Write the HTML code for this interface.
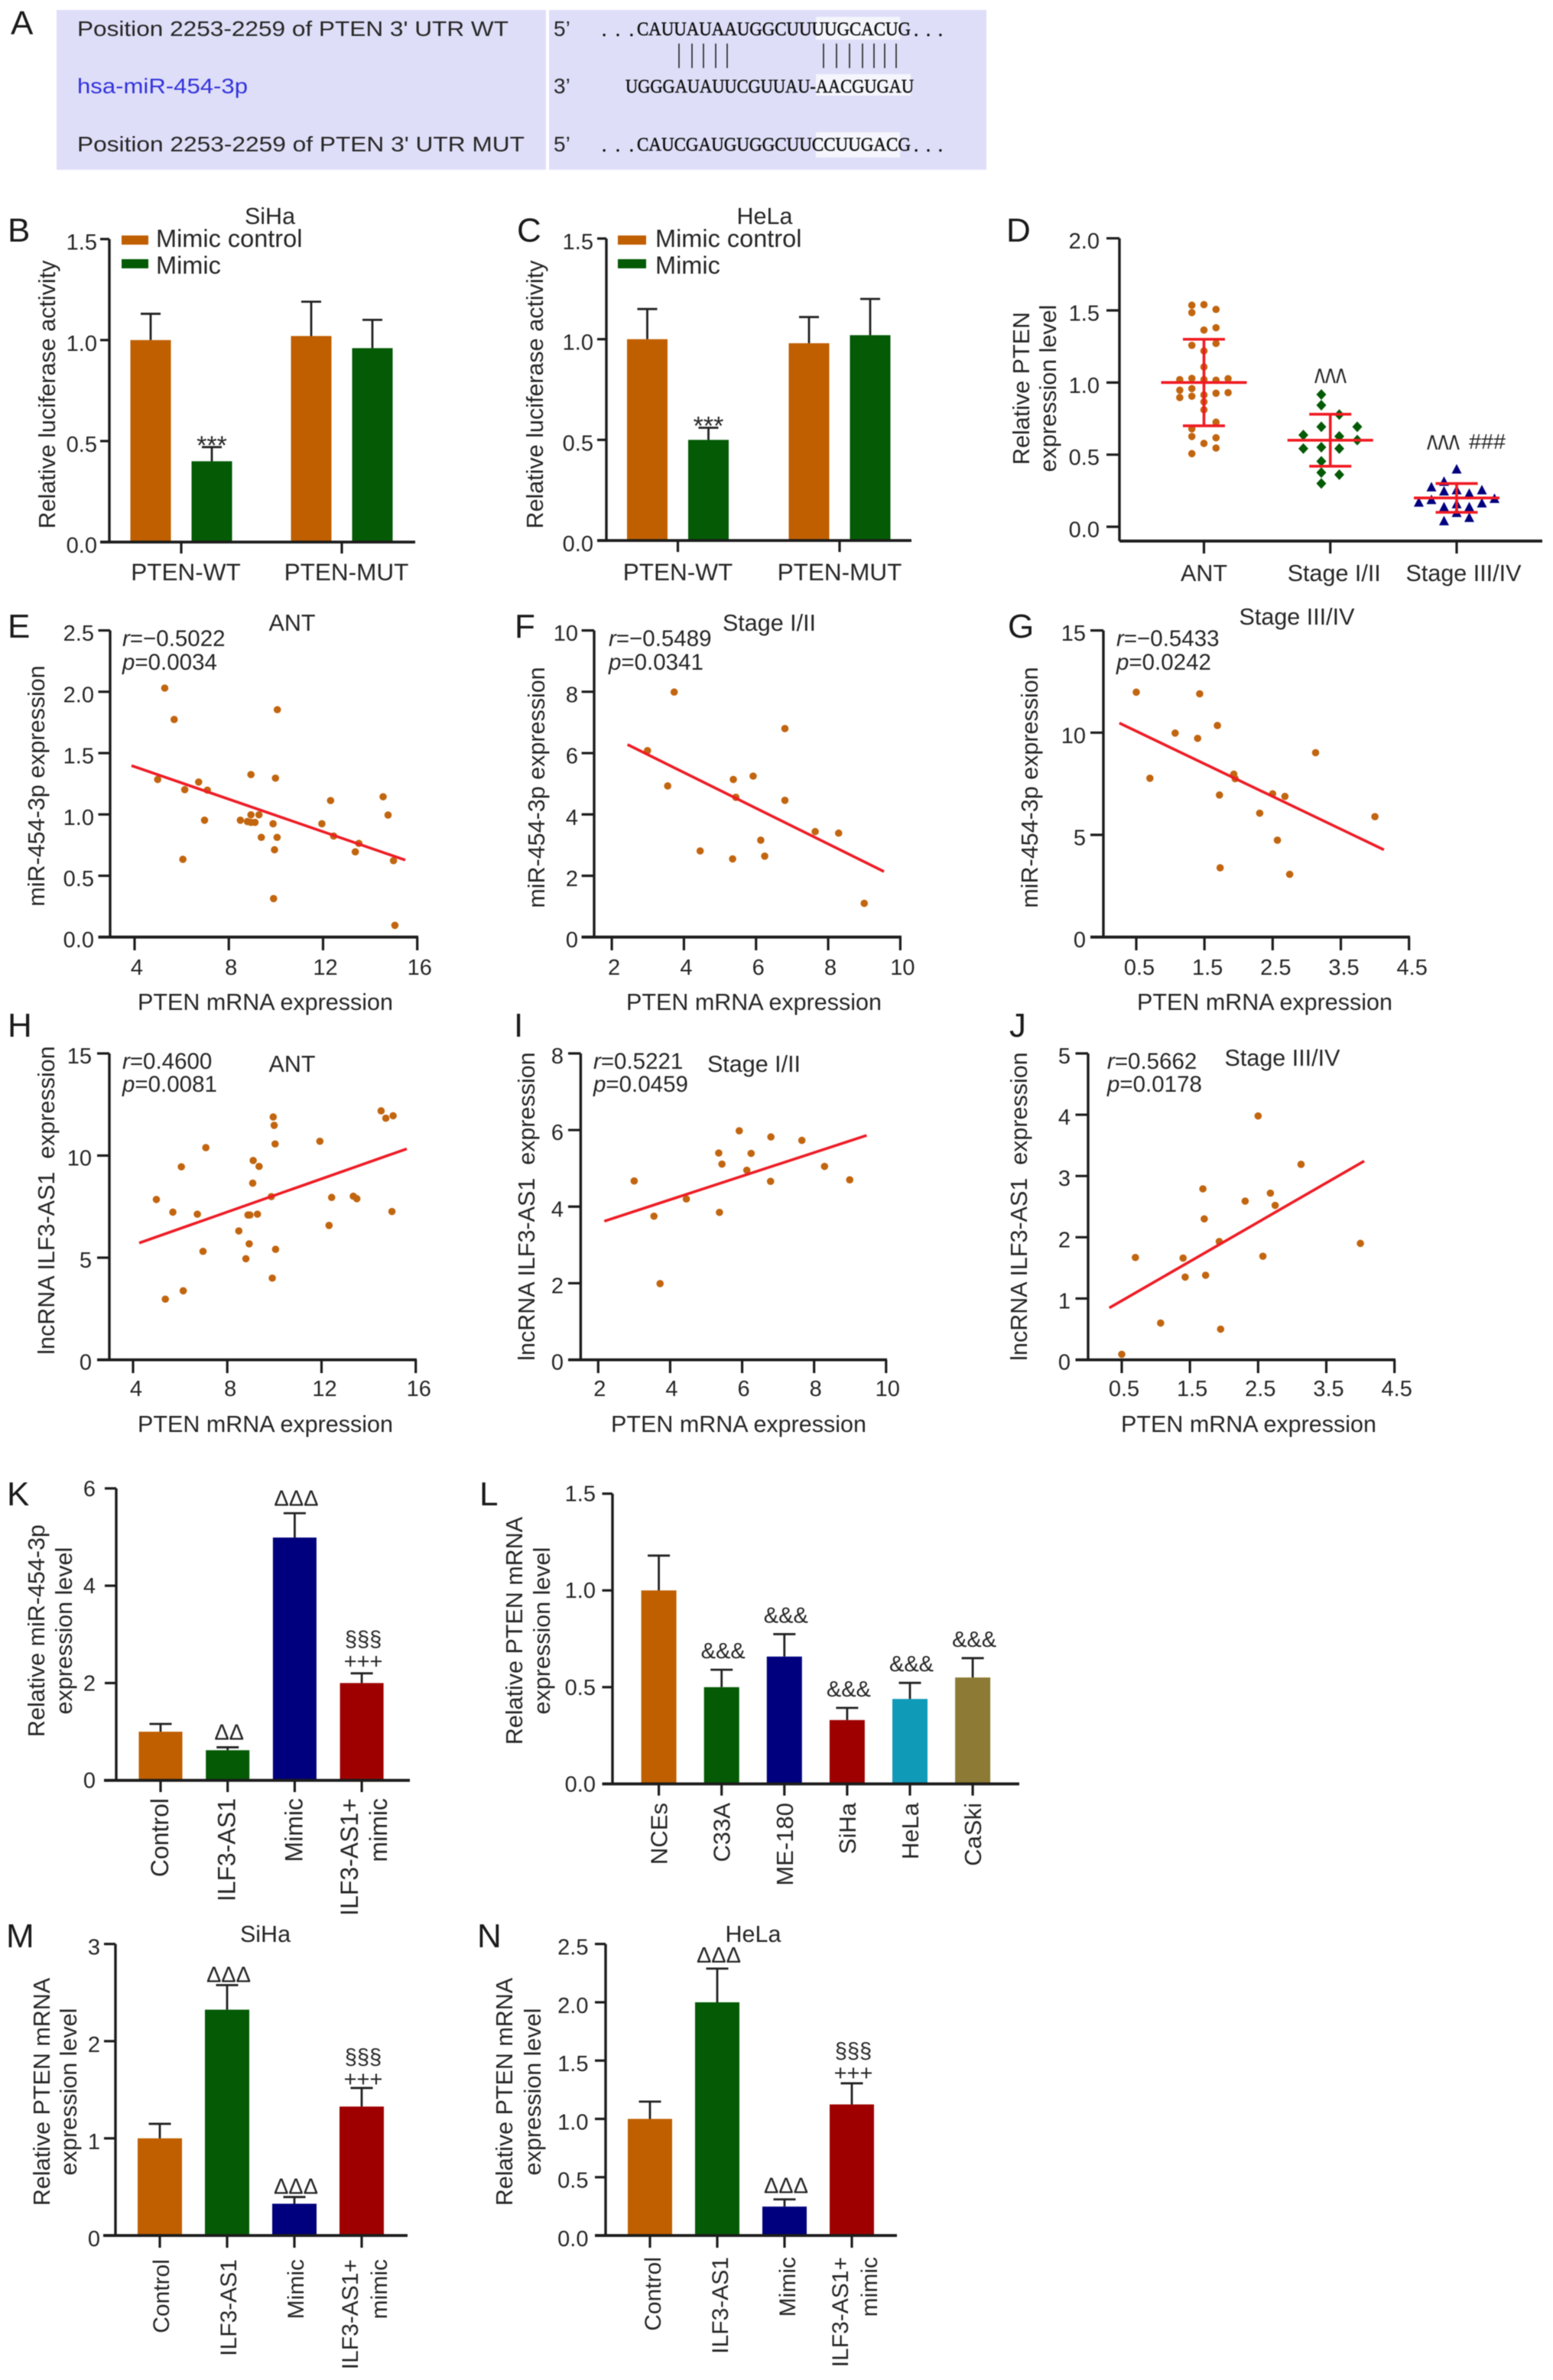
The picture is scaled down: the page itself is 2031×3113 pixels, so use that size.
<!DOCTYPE html>
<html lang="en">
<head>
<meta charset="utf-8">
<title>PTEN, miR-454-3p and ILF3-AS1 expression figure</title>
<style>
html,body{margin:0;padding:0;background:#fff;}
#figure{display:block;width:2031px;height:3113px;filter:blur(.5px);}
text{font-family:"Liberation Sans",Arial,sans-serif;fill:#262626;font-size:30.5px;}
.letter{font-size:44px;fill:#1a1a1a;}
.seq{font-family:"Liberation Serif",serif;font-size:25px;fill:#111;stroke:#111;stroke-width:.5px;}
.ut{font-size:28px;}
.stat{font-size:29.5px;}
.ctr{text-anchor:middle;}
</style>
</head>
<body>
<svg id="figure" xmlns="http://www.w3.org/2000/svg" width="2031" height="3113" viewBox="0 0 2031 3113">
<rect x="0" y="0" width="2031" height="3113" fill="#fff"/>

<g>
  <text class="letter" x="14" y="45">A</text>
  <rect x="74" y="13" width="640" height="209" fill="#dedef8"/>
  <rect x="718" y="13" width="572" height="209" fill="#dedef8"/>
  <rect x="1067" y="22" width="110" height="30" fill="#fff" fill-opacity=".7"/>
  <rect x="1067" y="97" width="124" height="28" fill="#fff" fill-opacity=".7"/>
  <rect x="1067" y="173" width="110" height="33" fill="#fff" fill-opacity=".7"/>
  <text class="ut" x="101" y="47" textLength="564" lengthAdjust="spacingAndGlyphs">Position 2253-2259 of PTEN 3' UTR  WT</text>
  <text class="ut" x="101" y="122" textLength="223" lengthAdjust="spacingAndGlyphs" style="fill:#3333dd">hsa-miR-454-3p</text>
  <text class="ut" x="101" y="198" textLength="585" lengthAdjust="spacingAndGlyphs">Position 2253-2259 of PTEN 3' UTR  MUT</text>
  <text class="ut" x="724" y="47">5’</text>
  <text class="ut" x="724" y="122">3’</text>
  <text class="ut" x="724" y="198">5’</text>
  <text class="seq" x="787" y="47" textLength="42">...</text>
  <text class="seq" x="833" y="46" textLength="358" lengthAdjust="spacingAndGlyphs">CAUUAUAAUGGCUUUUGCACUG</text>
  <text class="seq" x="1195" y="47" textLength="38">...</text>
  <text class="seq" x="818" y="121" textLength="377" lengthAdjust="spacingAndGlyphs">UGGGAUAUUCGUUAU-AACGUGAU</text>
  <text class="seq" x="787" y="198" textLength="42">...</text>
  <text class="seq" x="833" y="197" textLength="358" lengthAdjust="spacingAndGlyphs">CAUCGAUGUGGCUUCCUUGACG</text>
  <text class="seq" x="1195" y="198" textLength="38">...</text>
  <path d="M888 57V89M905 57V89M920 57V89M936 57V89M951 57V89M1077 57V89M1094 57V89M1111 57V89M1128 57V89M1143 57V89M1157 57V89M1172 57V89" stroke="#222" stroke-width="1.6" fill="none"/>
</g>

<g id="panel-b">
  <text class="letter" x="10" y="316">B</text>
  <text class="ctr" x="353" y="293">SiHa</text>
  <text transform="translate(72,516) rotate(-90)" class="ctr">Relative luciferase activity</text>
  <rect x="159" y="308" width="35" height="12" fill="#c05f00"/>
  <text x="204" y="323" style="font-size:32.5px">Mimic control</text>
  <rect x="159" y="339" width="35" height="12" fill="#045a05"/>
  <text x="204" y="358" style="font-size:32.5px">Mimic</text>
</g>
<g id="panel-c">
  <text class="letter" x="676" y="316">C</text>
  <text class="ctr" x="1000" y="293">HeLa</text>
  <text transform="translate(710,516) rotate(-90)" class="ctr">Relative luciferase activity</text>
  <rect x="808" y="308" width="37" height="12" fill="#c05f00"/>
  <text x="857" y="323" style="font-size:32.5px">Mimic control</text>
  <rect x="808" y="339" width="37" height="12" fill="#045a05"/>
  <text x="857" y="358" style="font-size:32.5px">Mimic</text>
</g>
<g id="panel-d">
  <text class="letter" x="1316" y="316">D</text>
  <text transform="translate(1346,508) rotate(-90)" class="ctr">Relative PTEN</text>
  <text transform="translate(1381,508) rotate(-90)" class="ctr">expression level</text>
  <text x="1719" y="518" style="font-size:52px" textLength="42" lengthAdjust="spacingAndGlyphs">^^^</text>
  <text x="1866" y="605" style="font-size:52px" textLength="43" lengthAdjust="spacingAndGlyphs">^^^</text>
  <text x="1921" y="587" style="font-size:28px" textLength="48" lengthAdjust="spacingAndGlyphs">###</text>
</g>

<g id="panel-e">
  <text class="letter" x="10" y="834">E</text>
  <text class="ctr" x="382" y="825">ANT</text>
  <text class="stat" x="160" y="845"><tspan font-style="italic">r</tspan>=−0.5022</text>
  <text class="stat" x="160" y="876"><tspan font-style="italic">p</tspan>=0.0034</text>
  <text class="ctr" x="347" y="1321">PTEN mRNA expression</text>
  <text transform="translate(58,1028) rotate(-90)" class="ctr">miR-454-3p expression</text>
</g>
<g id="panel-f">
  <text class="letter" x="673" y="834">F</text>
  <text class="ctr" x="1006" y="825">Stage I/II</text>
  <text class="stat" x="796" y="845"><tspan font-style="italic">r</tspan>=−0.5489</text>
  <text class="stat" x="796" y="876"><tspan font-style="italic">p</tspan>=0.0341</text>
  <text class="ctr" x="986" y="1321">PTEN mRNA expression</text>
  <text transform="translate(712,1030) rotate(-90)" class="ctr">miR-454-3p expression</text>
</g>
<g id="panel-g">
  <text class="letter" x="1318" y="834">G</text>
  <text class="ctr" x="1696" y="817">Stage III/IV</text>
  <text class="stat" x="1460" y="845"><tspan font-style="italic">r</tspan>=−0.5433</text>
  <text class="stat" x="1460" y="876"><tspan font-style="italic">p</tspan>=0.0242</text>
  <text class="ctr" x="1654" y="1321">PTEN mRNA expression</text>
  <text transform="translate(1357,1030) rotate(-90)" class="ctr">miR-454-3p expression</text>
</g>

<g id="panel-h">
  <text class="letter" x="10" y="1356">H</text>
  <text class="ctr" x="382" y="1402">ANT</text>
  <text class="stat" x="160" y="1398"><tspan font-style="italic">r</tspan>=0.4600</text>
  <text class="stat" x="160" y="1428"><tspan font-style="italic">p</tspan>=0.0081</text>
  <text class="ctr" x="347" y="1873">PTEN mRNA expression</text>
  <text transform="translate(71,1570) rotate(-90)" class="ctr" xml:space="preserve">lncRNA ILF3-AS1  expression</text>
</g>
<g id="panel-i">
  <text class="letter" x="672" y="1356">I</text>
  <text class="ctr" x="986" y="1402">Stage I/II</text>
  <text class="stat" x="776" y="1398"><tspan font-style="italic">r</tspan>=0.5221</text>
  <text class="stat" x="776" y="1428"><tspan font-style="italic">p</tspan>=0.0459</text>
  <text class="ctr" x="966" y="1873">PTEN mRNA expression</text>
  <text transform="translate(699,1578) rotate(-90)" class="ctr" xml:space="preserve">lncRNA ILF3-AS1  expression</text>
</g>
<g id="panel-j">
  <text class="letter" x="1320" y="1356">J</text>
  <text class="ctr" x="1677" y="1394">Stage III/IV</text>
  <text class="stat" x="1448" y="1398"><tspan font-style="italic">r</tspan>=0.5662</text>
  <text class="stat" x="1448" y="1428"><tspan font-style="italic">p</tspan>=0.0178</text>
  <text class="ctr" x="1633" y="1873">PTEN mRNA expression</text>
  <text transform="translate(1343,1578) rotate(-90)" class="ctr" xml:space="preserve">lncRNA ILF3-AS1  expression</text>
</g>

<g id="panel-k">
  <text class="letter" x="9" y="1969">K</text>
  <text transform="translate(58,2133) rotate(-90)" class="ctr">Relative miR-454-3p</text>
  <text transform="translate(94,2133) rotate(-90)" class="ctr">expression level</text>
</g>
<g id="panel-l">
  <text class="letter" x="627" y="1969">L</text>
  <text transform="translate(683,2133) rotate(-90)" class="ctr">Relative PTEN mRNA</text>
  <text transform="translate(719,2133) rotate(-90)" class="ctr">expression level</text>
</g>
<g id="panel-m">
  <text class="letter" x="8" y="2547">M</text>
  <text class="ctr" x="347" y="2540">SiHa</text>
  <text transform="translate(65,2736) rotate(-90)" class="ctr">Relative PTEN mRNA</text>
  <text transform="translate(100,2736) rotate(-90)" class="ctr">expression level</text>
</g>
<g id="panel-n">
  <text class="letter" x="624" y="2547">N</text>
  <text class="ctr" x="985" y="2540">HeLa</text>
  <text transform="translate(670,2736) rotate(-90)" class="ctr">Relative PTEN mRNA</text>
  <text transform="translate(707,2736) rotate(-90)" class="ctr">expression level</text>
</g>
</svg>

<script>
/* ---------- Panel B data ---------- */
const bCategories = ['PTEN-WT', 'PTEN-MUT'];
const bYTicks = ['0.0', '0.5', '1.0', '1.5'];
const bControl = [1.0, 1.02];
const bControlErr = [1.13, 1.19];
const bMimic = [0.40, 0.96];
const bMimicErr = [0.47, 1.10];
const bStars = ['***', ''];
/* ---------- Panel C data ---------- */
const cCategories = ['PTEN-WT', 'PTEN-MUT'];
const cYTicks = ['0.0', '0.5', '1.0', '1.5'];
const cControl = [1.0, 0.98];
const cControlErr = [1.15, 1.11];
const cMimic = [0.50, 1.02];
const cMimicErr = [0.56, 1.20];
const cStars = ['***', ''];
/* ---------- Panel D data ---------- */
const dCategories = ['ANT', 'Stage I/II', 'Stage III/IV'];
const dYTicks = ['0.0', '0.5', '1.0', '1.5', '2.0'];
const dAntValues = [1.536,1.54,1.485,1.507,1.364,1.38,1.258,1.271,1.219,1.108,1.02,1.029,1.02,1.016,1.027,0.947,0.958,0.896,0.905,0.914,0.926,0.93,0.866,0.811,0.725,0.679,0.626,0.617,0.578,0.546,0.507];
const dAntColumns = [-1,0,-1,1,0,1,-1,1,0,0,-2,-1,0,1,2,-2,-1,-2,-1,0,1,2,0,0,1,-1,-1,1,0,1,-1];
const dEarlyValues = [0.917,0.843,0.778,0.693,0.693,0.636,0.627,0.601,0.542,0.551,0.542,0.454,0.376,0.361,0.30];
const dEarlyColumns = [-0.5,-0.5,0.5,-0.5,1.5,-1.5,0.5,1.5,-1.5,-0.5,0.5,-0.5,-0.5,0.5,-0.5];
const dLateValues = [0.398,0.313,0.274,0.254,0.246,0.254,0.23,0.194,0.168,0.186,0.163,0.136,0.157,0.136,0.097,0.039,0.062];
const dLateColumns = [0,-1,-2,2,-1,0,1,3,-3,-2,2,-1,0,1,0,-1,1];
const dMeans = [1.0, 0.6, 0.2];
const dSds = [0.30, 0.18, 0.10];
/* ---------- Panel E data ---------- */
const eXTicks = ['4', '8', '12', '16'];
const eYTicks = ['0.0', '0.5', '1.0', '1.5', '2.0', '2.5'];
const ePten = [5.28,5.68,4.98,6.13,6.72,7.09,6.97,6.05,8.49,8.79,8.94,8.94,9.11,9.28,8.94,10.06,9.98,9.88,9.38,10.05,9.94,9.9,11.95,12.32,12.45,13.52,13.37,14.55,14.76,14.99,15.05];
const eMir = [2.03,1.774,1.285,1.202,1.264,1.198,0.953,0.634,0.953,0.942,0.935,0.997,0.935,0.997,1.325,1.854,1.296,0.924,0.813,0.813,0.712,0.314,0.924,1.113,0.824,0.764,0.695,1.144,0.995,0.623,0.096];
const eFitX = [3.87, 15.49];
const eFitY = [1.398, 0.628];
/* ---------- Panel F data ---------- */
const fXTicks = ['2', '4', '6', '8', '10'];
const fYTicks = ['0', '2', '4', '6', '8', '10'];
const fPten = [2.99,3.73,3.55,4.45,5.37,5.35,5.44,5.92,6.13,6.24,6.8,6.8,7.64,8.29,9.0];
const fMir = [6.08,7.99,4.93,2.81,5.14,2.55,4.56,5.25,3.16,2.64,6.8,4.46,3.44,3.39,1.1];
const fFitX = [2.436, 9.547];
const fFitY = [6.278, 2.137];
/* ---------- Panel G data ---------- */
const gXTicks = ['0.5', '1.5', '2.5', '3.5', '4.5'];
const gYTicks = ['0', '5', '10', '15'];
const gPten = [0.5,1.43,1.69,1.07,1.4,0.7,1.93,1.95,1.72,2.5,2.68,2.31,2.57,1.73,2.75,3.13,4.0];
const gMir = [11.98,11.9,10.35,9.98,9.72,7.77,7.97,7.75,6.95,7.01,6.88,6.06,4.74,3.39,3.07,9.02,5.89];
const gFitX = [0.252, 4.132];
const gFitY = [10.47, 4.27];
/* ---------- Panel H data ---------- */
const hXTicks = ['4', '8', '12', '16'];
const hYTicks = ['0', '5', '10', '15'];
const hPten = [4.99,5.37,5.69,6.05,6.13,6.73,6.97,7.09,8.49,8.79,8.93,8.88,8.96,9.08,9.1,9.28,9.35,9.87,9.91,9.95,9.99,10.03,10.05,11.93,12.32,12.43,13.35,13.5,14.53,14.73,15.04,14.99];
const hIlf = [7.85,2.97,7.23,9.45,3.38,7.13,5.31,10.39,6.31,4.95,5.68,7.09,7.09,8.65,9.76,7.13,9.47,7.99,4.0,11.89,11.48,10.57,5.41,10.7,6.58,7.95,8.01,7.89,12.19,11.83,11.95,7.26];
const hFitX = [4.26, 15.62];
const hFitY = [5.72, 10.33];
/* ---------- Panel I data ---------- */
const iXTicks = ['2', '4', '6', '8', '10'];
const iYTicks = ['0', '2', '4', '6', '8'];
const iPten = [3.0,3.55,3.72,4.45,5.35,5.37,5.44,5.92,6.13,6.25,6.8,6.79,7.66,8.29,8.99];
const iIlf = [4.67,3.75,1.99,4.2,5.4,3.85,5.11,5.98,4.95,5.39,5.82,4.66,5.73,5.05,4.7];
const iFitX = [2.17, 9.46];
const iFitY = [3.62, 5.86];
/* ---------- Panel J data ---------- */
const jXTicks = ['0.5', '1.5', '2.5', '3.5', '4.5'];
const jYTicks = ['0', '1', '2', '3', '4', '5'];
const jPten = [0.5,0.7,1.07,1.4,1.43,1.69,1.71,1.73,1.93,1.95,2.31,2.5,2.57,2.68,2.75,3.13,4.0];
const jIlf = [0.09,1.67,0.6,1.66,1.35,2.79,2.3,1.38,1.93,0.5,2.59,3.98,1.69,2.72,2.52,3.19,1.9];
const jFitX = [0.318, 4.056];
const jFitY = [0.847, 3.244];
/* ---------- Panel K data ---------- */
const kCategories = [['Control'], ['ILF3-AS1'], ['Mimic'], ['ILF3-AS1+', 'mimic']];
const kYTicks = ['0', '2', '4', '6'];
const kValues = [1.0, 0.62, 4.99, 2.0];
const kErrors = [1.16, 0.68, 5.49, 2.2];
const kMarks = ['', 'ΔΔ', 'ΔΔΔ', '+++'];
const kUpperMarks = ['', '', '', '§§§'];
/* ---------- Panel L data ---------- */
const lCategories = [['NCEs'], ['C33A'], ['ME-180'], ['SiHa'], ['HeLa'], ['CaSki']];
const lYTicks = ['0.0', '0.5', '1.0', '1.5'];
const lValues = [1.0, 0.5, 0.658, 0.33, 0.439, 0.55];
const lErrors = [1.18, 0.59, 0.774, 0.393, 0.522, 0.65];
const lMarks = ['', '&&&', '&&&', '&&&', '&&&', '&&&'];
const lUpperMarks = ['', '', '', '', '', ''];
/* ---------- Panel M data ---------- */
const mCategories = [['Control'], ['ILF3-AS1'], ['Mimic'], ['ILF3-AS1+', 'mimic']];
const mYTicks = ['0', '1', '2', '3'];
const mValues = [1.0, 2.324, 0.327, 1.327];
const mErrors = [1.149, 2.577, 0.396, 1.518];
const mMarks = ['', 'ΔΔΔ', 'ΔΔΔ', '+++'];
const mUpperMarks = ['', '', '', '§§§'];
/* ---------- Panel N data ---------- */
const nCategories = [['Control'], ['ILF3-AS1'], ['Mimic'], ['ILF3-AS1+', 'mimic']];
const nYTicks = ['0.0', '0.5', '1.0', '1.5', '2.0', '2.5'];
const nValues = [1.0, 2.0, 0.248, 1.124];
const nErrors = [1.148, 2.289, 0.31, 1.305];
const nMarks = ['', 'ΔΔΔ', 'ΔΔΔ', '+++'];
const nUpperMarks = ['', '', '', '§§§'];

/* ---------- Colours ---------- */
const ORANGE = '#c05f00', GREEN = '#045a05', NAVY = '#00007e', CRIMSON = '#9e0000', TEAL = '#0f9ab8', OLIVE = '#8c7a35';
const INK = '#1c1c1c', POINT = '#c2650f', FIT = '#ee1c25';
const treatColors = [ORANGE, GREEN, NAVY, CRIMSON];
const lineColors = [ORANGE, GREEN, NAVY, CRIMSON, TEAL, OLIVE];

/* ---------- Helpers ---------- */
const SVGNS = 'http://www.w3.org/2000/svg';
function node(tag, parent, props) {
  const el = document.createElementNS(SVGNS, tag);
  for (const k in props) el.setAttribute(k, props[k]);
  parent.appendChild(el);
  return el;
}
function linearScale(d0, d1, r0, r1) {
  return function (v) { return r0 + (v - d0) / (d1 - d0) * (r1 - r0); };
}
function tickScale(labels, r0, r1) {
  return linearScale(Number(labels[0]), Number(labels[labels.length - 1]), r0, r1);
}
function drawYAxisLine(g, x, y0, y1) {
  const el = node('line', g, {x1: x, x2: x, y1: y0, y2: y1, stroke: INK, 'stroke-width': 3.4});
  
  
}
function drawXAxisLine(g, x0, x1, y) {
  const el = node('line', g, {x1: x0, x2: x1, y1: y, y2: y, stroke: INK, 'stroke-width': 3.8});
  
  
}
function drawYTicks(g, labels, scale, f) {
  labels.forEach(function (lab) {
    const py = scale(Number(lab));
    const t = node('line', g, {x1: f.tickLeft, x2: f.axisX, y1: py, y2: py, stroke: INK, 'stroke-width': 3.2});
    
    
    const s = node('text', g, {x: f.labelRight, y: py + 10 + f.labelDy, 'text-anchor': 'end', style: 'font-size:29px'});
    s.textContent = lab;
    
    
  });
}
function drawXTick(g, px, y0, y1) {
  const t = node('line', g, {x1: px, x2: px, y1: y0, y2: y1, stroke: INK, 'stroke-width': 3.2});
  
  
}
function drawNumericXTicks(g, labels, scale, f) {
  labels.forEach(function (lab) {
    const px = scale(Number(lab));
    drawXTick(g, px, f.baseY, f.tickBottom);
    const s = node('text', g, {x: px + f.labelShift, y: f.labelY, 'text-anchor': 'middle', style: 'font-size:29px'});
    s.textContent = lab;
    
    
  });
}
function drawPoints(g, xs, ys, xScale, yScale) {
  xs.forEach(function (v, i) {
    const c = node('circle', g, {cx: xScale(v), cy: yScale(ys[i]), r: 4.8, fill: POINT});
    
    
  });
}
function drawFit(g, fx, fy, xScale, yScale) {
  const l = node('line', g, {x1: xScale(fx[0]), y1: yScale(fy[0]), x2: xScale(fx[1]), y2: yScale(fy[1]), stroke: FIT, 'stroke-width': 3.6});
  
  
}
function drawBar(g, cx, width, value, yScale, color) {
  const top = yScale(value), base = yScale(0);
  const b = node('rect', g, {x: cx - width / 2, y: top, width: width, height: base - top, fill: color});
  
  
}
function drawErrorBar(g, cx, capWidth, value, err, yScale) {
  const p = node('path', g, {d: 'M' + cx + ' ' + yScale(value) + 'V' + yScale(err) + 'M' + (cx - capWidth / 2) + ' ' + yScale(err) + 'H' + (cx + capWidth / 2), stroke: '#222', 'stroke-width': 2.8, fill: 'none'});
  
  
}
function drawMark(g, x, y, str, size) {
  if (!str) return;
  const s = node('text', g, {x: x, y: y, 'text-anchor': 'middle', style: 'font-size:' + size + 'px'});
  s.textContent = str;
  
  
}
function drawVerticalLabel(g, x, y, str, size) {
  const s = node('text', g, {transform: 'translate(' + x + ',' + y + ') rotate(-90)', 'text-anchor': 'end', style: 'font-size:' + size + 'px'});
  s.textContent = str;
  
  
}
function drawHorizontalLabel(g, x, y, str, size) {
  const s = node('text', g, {x: x, y: y, 'text-anchor': 'middle', style: 'font-size:' + size + 'px'});
  s.textContent = str;
  
  
}

/* ---------- Grouped bars: B, C ---------- */
function groupedPanel(id, f, cats, ticks, ctrl, ctrlErr, mimic, mimicErr, stars) {
  const g = document.getElementById(id);
  const y = tickScale(ticks, f.y0, f.yTop);
  const x = function (i) { return f.first + i * f.step; };
  cats.forEach(function (cat, i) {
    drawBar(g, x(i) - 40, f.barW, ctrl[i], y, ORANGE);
    drawBar(g, x(i) + 40, f.barW, mimic[i], y, GREEN);
    drawErrorBar(g, x(i) - 40, 26, ctrl[i], ctrlErr[i], y);
    drawErrorBar(g, x(i) + 40, 26, mimic[i], mimicErr[i], y);
    drawMark(g, x(i) + 40, y(mimicErr[i]) + 9, stars[i], 34);
    drawXTick(g, x(i), f.y0, f.tickBottom);
    drawHorizontalLabel(g, x(i) + f.labelShift, f.labelY, cat, 31.5);
  });
  drawYAxisLine(g, f.axisX, f.yTop, f.y0);
  drawXAxisLine(g, f.x0, f.x1, f.y0);
  drawYTicks(g, ticks, y, f);
}
groupedPanel('panel-b', {y0: 709, yTop: 312.7, first: 237, step: 210, barW: 53, axisX: 143, x0: 131, x1: 543, tickLeft: 131, labelRight: 127, labelDy: 4, tickBottom: 724, labelY: 759, labelShift: 6}, bCategories, bYTicks, bControl, bControlErr, bMimic, bMimicErr, bStars);
groupedPanel('panel-c', {y0: 707, yTop: 312, first: 886.5, step: 211.5, barW: 53, axisX: 793, x0: 781, x1: 1192, tickLeft: 781, labelRight: 776, labelDy: 4, tickBottom: 722, labelY: 759, labelShift: 0}, cCategories, cYTicks, cControl, cControlErr, cMimic, cMimicErr, cStars);

/* ---------- Swarm: D ---------- */
const dFrame = {axisX: 1464, tickLeft: 1447, labelRight: 1438, labelDy: 3.5, y0: 689, yTop: 311.7, baseY: 707.7, x1: 2017, first: 1574.5, step: 165.25, tickBottom: 724, labelY: 760};
function drawCircleMark(g, px, py) {
  const c = node('circle', g, {cx: px, cy: py, r: 4.8, fill: POINT});
  
  
}
function drawDiamondMark(g, px, py) {
  const p = node('path', g, {d: 'M' + px + ' ' + (py - 7) + 'L' + (px + 6.5) + ' ' + py + 'L' + px + ' ' + (py + 7) + 'L' + (px - 6.5) + ' ' + py + 'Z', fill: GREEN});
  
  
}
function drawTriangleMark(g, px, py) {
  const p = node('path', g, {d: 'M' + px + ' ' + (py - 7) + 'L' + (px + 6.5) + ' ' + (py + 5.5) + 'L' + (px - 6.5) + ' ' + (py + 5.5) + 'Z', fill: NAVY});
  
  
}
function drawSummary(g, px, mean, sd, yScale) {
  const p = node('path', g, {d: 'M' + (px - 56) + ' ' + yScale(mean) + 'H' + (px + 56) + 'M' + (px - 27.5) + ' ' + yScale(mean + sd) + 'H' + (px + 27.5) + 'M' + (px - 27.5) + ' ' + yScale(mean - sd) + 'H' + (px + 27.5) + 'M' + px + ' ' + yScale(mean + sd) + 'V' + yScale(mean - sd), stroke: '#f01a22', 'stroke-width': 3.6, fill: 'none'});
  
  
}
(function () {
  const g = document.getElementById('panel-d');
  const f = dFrame;
  const y = tickScale(dYTicks, f.y0, f.yTop);
  const x = function (i) { return f.first + i * f.step; };
  dAntValues.forEach(function (v, i) { drawCircleMark(g, x(0) + dAntColumns[i] * 15.8, y(v)); });
  dEarlyValues.forEach(function (v, i) { drawDiamondMark(g, x(1) + dEarlyColumns[i] * 23.5, y(v)); });
  dLateValues.forEach(function (v, i) { drawTriangleMark(g, x(2) + dLateColumns[i] * 16.5, y(v)); });
  dMeans.forEach(function (m, i) { drawSummary(g, x(i), m, dSds[i], y); });
  drawYAxisLine(g, f.axisX, f.yTop, f.baseY);
  drawXAxisLine(g, f.axisX, f.x1, f.baseY);
  drawYTicks(g, dYTicks, y, f);
  const shifts = [0, 5, 9];
  dCategories.forEach(function (cat, i) {
    drawXTick(g, x(i), f.baseY, f.tickBottom);
    drawHorizontalLabel(g, x(i) + shifts[i], f.labelY, cat, 30.5);
  });
})();

/* ---------- Scatter: E to J ---------- */
function scatterPanel(id, f, xTicks, yTicks, xs, ys, fitX, fitY) {
  const g = document.getElementById(id);
  const x = tickScale(xTicks, f.xLeft, f.xRight);
  const y = tickScale(yTicks, f.baseY, f.yTop);
  drawPoints(g, xs, ys, x, y);
  drawFit(g, fitX, fitY, x, y);
  drawYAxisLine(g, f.axisX, f.yTop, f.baseY);
  drawXAxisLine(g, f.tickLeft, f.axisEnd, f.baseY);
  drawYTicks(g, yTicks, y, f);
  drawNumericXTicks(g, xTicks, x, f);
}
const topRow = {baseY: 1225.7, yTop: 824.6, tickBottom: 1243, labelY: 1275, labelDy: 3.5};
const midRow = {baseY: 1778.6, yTop: 1377.9, tickBottom: 1796, labelY: 1826, labelDy: 3};
scatterPanel('panel-e', Object.assign({axisX: 144, tickLeft: 128.5, labelRight: 123, xLeft: 176, xRight: 545.7, axisEnd: 547, labelShift: 3}, topRow), eXTicks, eYTicks, ePten, eMir, eFitX, eFitY);
scatterPanel('panel-f', Object.assign({axisX: 777, tickLeft: 760.6, labelRight: 756, xLeft: 800.1, xRight: 1177.4, axisEnd: 1179, labelShift: 3}, topRow), fXTicks, fYTicks, fPten, fMir, fFitX, fFitY);
scatterPanel('panel-g', Object.assign({axisX: 1443, tickLeft: 1426, labelRight: 1420, xLeft: 1486, xRight: 1842.7, axisEnd: 1844, labelShift: 4}, topRow), gXTicks, gYTicks, gPten, gMir, gFitX, gFitY);
scatterPanel('panel-h', Object.assign({axisX: 143, tickLeft: 127, labelRight: 120, xLeft: 174, xRight: 543.7, axisEnd: 545, labelShift: 4}, midRow), hXTicks, hYTicks, hPten, hIlf, hFitX, hFitY);
scatterPanel('panel-i', Object.assign({axisX: 759.4, tickLeft: 743, labelRight: 737, xLeft: 782.3, xRight: 1158.8, axisEnd: 1160, labelShift: 2}, midRow), iXTicks, iYTicks, iPten, iIlf, iFitX, iFitY);
scatterPanel('panel-j', Object.assign({axisX: 1423, tickLeft: 1406.5, labelRight: 1400, xLeft: 1467, xRight: 1823.7, axisEnd: 1825, labelShift: 3}, midRow), jXTicks, jYTicks, jPten, jIlf, jFitX, jFitY);

/* ---------- Single-series bars: K to N ---------- */
function barPanel(id, f, cats, ticks, values, errors, marks, upper, colors) {
  const g = document.getElementById(id);
  const y = tickScale(ticks, f.y0, f.yTop);
  const x = function (i) { return f.first + i * f.step; };
  cats.forEach(function (lines, i) {
    drawBar(g, x(i), f.barW, values[i], y, colors[i]);
    drawErrorBar(g, x(i), 29, values[i], errors[i], y);
    drawXTick(g, x(i), f.y0, f.tickBottom);
    if (lines.length === 1) {
      drawVerticalLabel(g, x(i) + f.labelDx, f.labelTop, lines[0], f.labelSize);
    } else {
      drawVerticalLabel(g, x(i) - 5, f.labelTop, lines[0], f.labelSize);
      drawVerticalLabel(g, x(i) + 33, f.labelTop, lines[1], f.labelSize);
    }
    const base = y(errors[i]) - (marks[i] === '+++' ? f.plusGap : f.markGap);
    drawMark(g, x(i) + 2, base, marks[i], f.markSize);
    drawMark(g, x(i) + 2, base - 29, upper[i], 29);
  });
  drawYAxisLine(g, f.axisX, f.yTop, f.y0);
  drawXAxisLine(g, f.x0, f.x1, f.y0);
  drawYTicks(g, ticks, y, f);
}
barPanel('panel-k', {y0: 2328.7, yTop: 1946.8, first: 210, step: 87.7, barW: 57, axisX: 152, x0: 136, x1: 536, tickLeft: 137, labelRight: 125, labelDy: 0, tickBottom: 2344, labelTop: 2352, labelDx: 10, labelSize: 32, markGap: 10, plusGap: 6, markSize: 29}, kCategories, kYTicks, kValues, kErrors, kMarks, kUpperMarks, treatColors);
barPanel('panel-l', {y0: 2333.3, yTop: 1953.7, first: 861.6, step: 82.1, barW: 46, axisX: 801, x0: 787.5, x1: 1333, tickLeft: 787.5, labelRight: 779, labelDy: 0, tickBottom: 2348.6, labelTop: 2358, labelDx: 11, labelSize: 31, markGap: 15, plusGap: 6, markSize: 29}, lCategories, lYTicks, lValues, lErrors, lMarks, lUpperMarks, lineColors);
barPanel('panel-m', {y0: 2924, yTop: 2542.7, first: 209, step: 88, barW: 58, axisX: 151, x0: 135, x1: 533, tickLeft: 136, labelRight: 131, labelDy: 4, tickBottom: 2940, labelTop: 2955, labelDx: 12, labelSize: 30, markGap: 4, plusGap: 2, markSize: 29}, mCategories, mYTicks, mValues, mErrors, mMarks, mUpperMarks, treatColors);
barPanel('panel-n', {y0: 2924, yTop: 2542.7, first: 850, step: 88, barW: 58, axisX: 792, x0: 778, x1: 1173, tickLeft: 778, labelRight: 769.5, labelDy: 4, tickBottom: 2940, labelTop: 2952, labelDx: 14, labelSize: 30, markGap: 8, plusGap: 4, markSize: 29}, nCategories, nYTicks, nValues, nErrors, nMarks, nUpperMarks, treatColors);
</script>
</body>
</html>
